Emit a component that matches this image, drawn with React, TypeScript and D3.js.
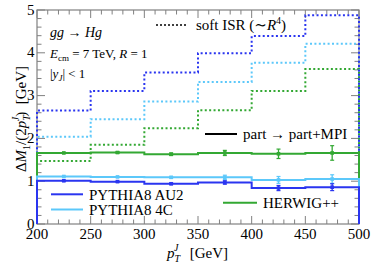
import React from 'react';
import * as d3 from 'd3';

// bin edges in pT^J [GeV]
const binEdges = [200, 250, 300, 350, 400, 450, 500];
const binCenters = [225, 275, 325, 375, 425, 475];

// soft ISR (~R^4) estimates, dotted
const isrAU2 = [2.65, 3.11, 3.54, 3.99, 4.39, 4.88];
const isr4C = [2.04, 2.45, 2.86, 3.32, 3.77, 4.21];
const isrHerwig = [1.47, 1.85, 2.24, 2.66, 3.11, 3.62];

// part -> part+MPI, solid with errors
const mpiAU2 = [1.01, 0.99, 0.94, 0.97, 0.84, 0.86];
const mpiAU2Err = [0.01, 0.01, 0.02, 0.04, 0.06, 0.08];
const mpi4C = [1.11, 1.1, 1.09, 1.09, 1.03, 1.05];
const mpi4CErr = [0.01, 0.01, 0.02, 0.05, 0.08, 0.1];
const mpiHerwig = [1.66, 1.67, 1.63, 1.66, 1.64, 1.66];
const mpiHerwigErr = [0.01, 0.02, 0.03, 0.06, 0.11, 0.17];

const xTicks = [200, 250, 300, 350, 400, 450, 500];
const yTicks = [0, 1, 2, 3, 4, 5];

const BLUE = '#2a35f0';
const LIGHT = '#5cc8fa';
const GREEN = '#33a833';
const AXIS = '#808080';
const FONT = '"Liberation Serif", "DejaVu Serif", serif';
const NB = '\u00a0';

const W = 374;
const H = 271;
const left = 37;
const right = 359;
const top = 10;
const bottom = 224;

const x = d3.scaleLinear().domain([200, 500]).range([left, right]);
const y = d3.scaleLinear().domain([0, 5]).range([bottom, top]);

const stepPath = (vals: number[]) => {
  const pts: [number, number][] = [[binEdges[0], 0]];
  vals.forEach((v, i) => pts.push([binEdges[i], v]));
  pts.push([binEdges[binEdges.length - 1], vals[vals.length - 1]]);
  pts.push([binEdges[binEdges.length - 1], 0]);
  return d3.line<[number, number]>()
    .x(d => x(d[0]))
    .y(d => y(d[1]))
    .curve(d3.curveStepAfter)(pts) as string;
};

const Dotted = ({ vals, color }: { vals: number[]; color: string }) => (
  <path d={stepPath(vals)} fill="none" stroke={color} strokeWidth={2} strokeDasharray="2,2.4" />
);

const Solid = ({ vals, errs, color }: { vals: number[]; errs: number[]; color: string }) => (
  <g>
    <path d={stepPath(vals)} fill="none" stroke={color} strokeWidth={2} />
    {binCenters.map((c, i) => (
      <g key={i}>
        <line x1={x(c)} x2={x(c)} y1={y(vals[i] - errs[i])} y2={y(vals[i] + errs[i])} stroke={color} strokeWidth={1.3} />
        <line x1={x(c) - 2} x2={x(c) + 2} y1={y(vals[i] - errs[i])} y2={y(vals[i] - errs[i])} stroke={color} strokeWidth={1.2} />
        <line x1={x(c) - 2} x2={x(c) + 2} y1={y(vals[i] + errs[i])} y2={y(vals[i] + errs[i])} stroke={color} strokeWidth={1.2} />
        <rect x={x(c) - 1.8} y={y(vals[i]) - 1.8} width={3.6} height={3.6} fill={color} />
      </g>
    ))}
  </g>
);

const App = () => {
  const xMinor = d3.range(200, 501, 10).filter(v => v % 50 !== 0);
  const yMinor = d3.range(0, 5.01, 0.2).map(v => +v.toFixed(1)).filter(v => Math.abs(v - Math.round(v)) > 0.01);

  return (
    <svg width={W} height={H} style={{ position: 'absolute', left: 0, top: 0, background: '#fff', fontFamily: FONT }}>
      {/* frame and ticks */}
      <rect x={left} y={top} width={right - left} height={bottom - top} fill="none" stroke={AXIS} strokeWidth={1.2} />
      {xTicks.map(t => (
        <g key={'xt' + t} stroke={AXIS} strokeWidth={1}>
          <line x1={x(t)} x2={x(t)} y1={bottom} y2={bottom - 8} />
          <line x1={x(t)} x2={x(t)} y1={top} y2={top + 8} />
        </g>
      ))}
      {xMinor.map(t => (
        <g key={'xm' + t} stroke={AXIS} strokeWidth={1}>
          <line x1={x(t)} x2={x(t)} y1={bottom} y2={bottom - 4.5} />
          <line x1={x(t)} x2={x(t)} y1={top} y2={top + 4.5} />
        </g>
      ))}
      {yTicks.map(t => (
        <g key={'yt' + t} stroke={AXIS} strokeWidth={1}>
          <line x1={left} x2={left + 8} y1={y(t)} y2={y(t)} />
          <line x1={right} x2={right - 8} y1={y(t)} y2={y(t)} />
        </g>
      ))}
      {yMinor.map(t => (
        <g key={'ym' + t} stroke={AXIS} strokeWidth={1}>
          <line x1={left} x2={left + 4.5} y1={y(t)} y2={y(t)} />
          <line x1={right} x2={right - 4.5} y1={y(t)} y2={y(t)} />
        </g>
      ))}
      {xTicks.map(t => (
        <text key={'xl' + t} x={x(t)} y={239} textAnchor="middle" fontSize={15}>{t}</text>
      ))}
      {yTicks.map(t => (
        <text key={'yl' + t} x={34.5} y={y(t) + 4.5} textAnchor="end" fontSize={15}>{t}</text>
      ))}

      {/* axis titles */}
      <text x={167} y={258} fontSize={15}>
        <tspan fontStyle="italic">p</tspan>
        <tspan fontSize={10} fontStyle="italic" dy={4}>T</tspan>
        <tspan fontSize={10} fontStyle="italic" dx={-6} dy={-11}>J</tspan>
        <tspan dy={7}>{NB + NB + NB + '[GeV]'}</tspan>
      </text>
      <text transform="translate(26,119) rotate(-90)" textAnchor="middle" fontSize={15}>
        <tspan>Δ</tspan>
        <tspan fontStyle="italic">M</tspan>
        <tspan fontSize={10} dy={4}>1</tspan>
        <tspan dy={-4}>/(2</tspan>
        <tspan fontStyle="italic">p</tspan>
        <tspan fontSize={10} fontStyle="italic" dy={4}>T</tspan>
        <tspan fontSize={10} fontStyle="italic" dx={-6} dy={-11}>J</tspan>
        <tspan dy={7}>{')' + NB + NB + '[GeV]'}</tspan>
      </text>

      {/* histograms */}
      <Dotted vals={isrHerwig} color={GREEN} />
      <Dotted vals={isr4C} color={LIGHT} />
      <Dotted vals={isrAU2} color={BLUE} />
      <Solid vals={mpiHerwig} errs={mpiHerwigErr} color={GREEN} />
      <Solid vals={mpi4C} errs={mpi4CErr} color={LIGHT} />
      <Solid vals={mpiAU2} errs={mpiAU2Err} color={BLUE} />

      {/* annotations */}
      <text x={50} y={37} fontSize={14} fontStyle="italic">gg <tspan fontStyle="normal">→</tspan> Hg</text>
      <text x={50} y={57.5} fontSize={13}>
        <tspan fontStyle="italic">E</tspan>
        <tspan fontSize={9} dy={3}>cm</tspan>
        <tspan dy={-3}>{NB + '= 7 TeV,' + NB}</tspan>
        <tspan fontStyle="italic">R</tspan>
        <tspan>{NB + '= 1'}</tspan>
      </text>
      <text x={50} y={78} fontSize={13}>
        |<tspan fontStyle="italic">y</tspan>
        <tspan fontSize={9} fontStyle="italic" dy={3}>J</tspan>
        <tspan dy={-3}>{'|' + NB + '< 1'}</tspan>
      </text>

      {/* legends */}
      <line x1={156} x2={188} y1={25} y2={25} stroke="#000" strokeWidth={1.6} strokeDasharray="2,2" />
      <text x={196} y={30} fontSize={15}>
        soft ISR (∼<tspan fontStyle="italic">R</tspan>
        <tspan fontSize={10} dy={-6}>4</tspan>
        <tspan dy={6}>)</tspan>
      </text>
      <line x1={205} x2={237} y1={134} y2={134} stroke="#000" strokeWidth={2} />
      <text x={243} y={139} fontSize={15}>part → part+MPI</text>
      <line x1={51} x2={83} y1={194.3} y2={194.3} stroke={BLUE} strokeWidth={2} />
      <text x={89} y={199.5} fontSize={15}>PYTHIA8 AU2</text>
      <line x1={51} x2={83} y1={209.5} y2={209.5} stroke={LIGHT} strokeWidth={2} />
      <text x={89} y={215} fontSize={15}>PYTHIA8 4C</text>
      <line x1={223} x2={257} y1={202.7} y2={202.7} stroke={GREEN} strokeWidth={2} />
      <text x={263} y={208} fontSize={15}>HERWIG++</text>
    </svg>
  );
};

export default App;
